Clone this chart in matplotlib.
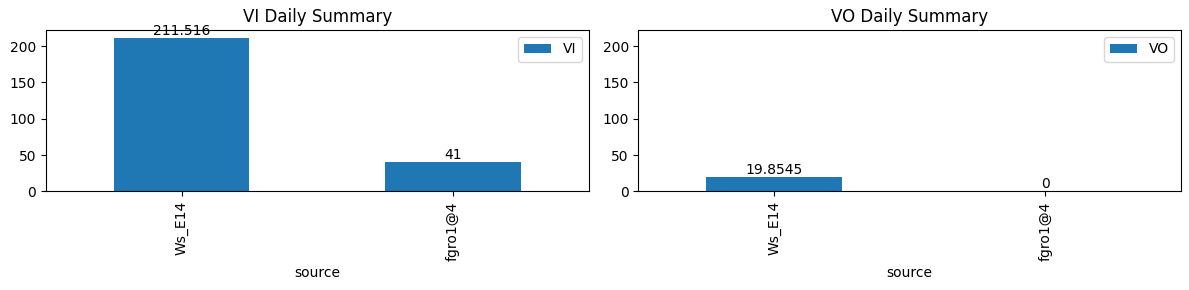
import pandas as pd
import matplotlib
matplotlib.use('Agg')
import matplotlib.pyplot as plt

# Datos
fuentes = ['Ws_E14', 'fgro1@4']
vi = [211.516, 41]
vo = [19.8545, 0]

df = pd.DataFrame({'source': fuentes, 'VI': vi, 'VO': vo}).set_index('source')

fig, axes = plt.subplots(1, 2, figsize=(11.89, 2.9))

for ax, col in zip(axes, ['VI', 'VO']):
    df[[col]].plot(kind='bar', ax=ax)
    ax.set_title(f'{col} Daily Summary')
    ax.bar_label(ax.containers[0])
    ax.legend(loc='upper right')

# misma escala en los dos
ymax = max(df['VI'].max(), df['VO'].max()) * 1.05
for ax in axes:
    ax.set_ylim(0, ymax)

plt.subplots_adjust(left=0.0387, right=0.9933, top=0.8966, bottom=0.3397, wspace=0.092)
plt.savefig('out.png', dpi=100)
